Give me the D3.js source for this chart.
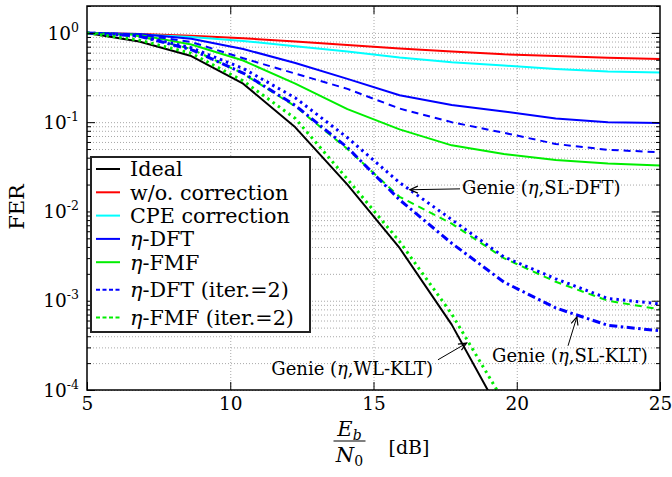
<!DOCTYPE html>
<html>
<head>
<meta charset="utf-8">
<script src="https://cdn.jsdelivr.net/npm/d3@7"></script>
<style>
body { margin: 0; background: #fff; }
text { font-family: "DejaVu Serif", "Liberation Serif", serif; fill: #000; }
</style>
</head>
<body>
<svg id="chart" width="672" height="477"></svg>
<script>
// Eb/N0 sample points (dB)
const ebn0 = [5, 6.82, 8.64, 10.45, 12.27, 14.09, 15.91, 17.73, 19.55, 21.36, 23.18, 25];

// FER curves
const ferIdeal = [1.0, 0.80, 0.55, 0.27, 0.0875, 0.0200, 0.0039, 0.00054, 0.000047];
const ferNoCorr = [1.0, 0.97, 0.93, 0.87, 0.80, 0.73, 0.67, 0.62, 0.575, 0.55, 0.525, 0.51];
const ferCpe = [1.0, 0.96, 0.90, 0.81, 0.71, 0.62, 0.53, 0.47, 0.43, 0.395, 0.37, 0.36];
const ferEtaDft = [1.0, 0.97, 0.86, 0.66, 0.46, 0.305, 0.20, 0.156, 0.132, 0.110, 0.0995, 0.098];
const ferEtaFmf = [1.0, 0.95, 0.74, 0.49, 0.27, 0.14, 0.083, 0.055, 0.044, 0.0377, 0.0345, 0.0326];
const ferEtaDftIt2 = [1.0, 0.96, 0.79, 0.52, 0.35, 0.236, 0.142, 0.10, 0.076, 0.057, 0.049, 0.046];
const ferEtaFmfIt2 = [1.0, 0.92, 0.66, 0.35, 0.15, 0.05, 0.0146, 0.0073, 0.0030, 0.00163, 0.00100, 0.00080];
const ferGenieSlDft = [1.0, 0.93, 0.68, 0.40, 0.187, 0.067, 0.021, 0.0081, 0.0031, 0.00176, 0.00106, 0.00092];
const ferGenieSlKlt = [1.0, 0.92, 0.65, 0.355, 0.154, 0.052, 0.0135, 0.0044, 0.00162, 0.00083, 0.00053, 0.00046];
const ferGenieWlKlt = [1.0, 0.83, 0.59, 0.29, 0.11, 0.023, 0.0046, 0.00071, 0.000074];

const legendLabels = ["Ideal", "w/o. correction", "CPE correction", "η-DFT", "η-FMF",
    "η-DFT (iter.=2)", "η-FMF (iter.=2)"];
const xTicks = [5, 10, 15, 20, 25];
const yMajor = [1e-4, 1e-3, 1e-2, 1e-1, 1];
const yExp = ["-4", "-3", "-2", "-1", "0"];

const svg = d3.select("#chart");
const plot = { left: 87, right: 660, top: 6, bottom: 390 };
const pw = plot.right - plot.left;
const ph = plot.bottom - plot.top;

const x = d3.scaleLinear().domain([5, 25]).range([plot.left, plot.right]);
const y = d3.scaleLog().domain([1e-4, 2]).range([plot.bottom, plot.top]);

svg.append("rect").attr("width", 672).attr("height", 477).attr("fill", "#fff");

// grid (dotted)
const gy = svg.append("g")
    .attr("transform", `translate(${plot.left},0)`)
    .call(d3.axisLeft(y).tickValues(y.ticks()).tickSize(-pw).tickFormat(""));
const gx = svg.append("g")
    .attr("transform", `translate(0,${plot.bottom})`)
    .call(d3.axisBottom(x).tickValues([10, 15, 20]).tickSize(-ph).tickFormat(""));
[gy, gx].forEach((g) => {
    g.select(".domain").remove();
    g.selectAll("line")
        .attr("stroke", "#a8a8a8")
        .attr("stroke-width", 1)
        .attr("stroke-dasharray", "1,2");
});

// curves
const series = [
    { v: ferIdeal, color: "#000000", dash: null, w: 2 },
    { v: ferNoCorr, color: "#ff0000", dash: null, w: 2 },
    { v: ferCpe, color: "#00ffff", dash: null, w: 2 },
    { v: ferEtaDft, color: "#0000ff", dash: null, w: 2 },
    { v: ferEtaFmf, color: "#00ee00", dash: null, w: 2 },
    { v: ferEtaDftIt2, color: "#0000ff", dash: "7,5", w: 2 },
    { v: ferEtaFmfIt2, color: "#00ee00", dash: "7,5", w: 2 },
    { v: ferGenieSlKlt, color: "#0000ff", dash: "8,3.5,2.5,3.5", w: 3 },
    { v: ferGenieSlDft, color: "#0000ff", dash: "2.5,4", w: 3 },
    { v: ferGenieWlKlt, color: "#00ee00", dash: "2.5,4", w: 3 }
];

svg.append("clipPath").attr("id", "clip")
    .append("rect")
    .attr("x", plot.left).attr("y", plot.top)
    .attr("width", pw).attr("height", ph);

const line = d3.line()
    .x((d) => x(d[0]))
    .y((d) => y(d[1]));

const curves = svg.append("g").attr("clip-path", "url(#clip)");
series.forEach((s) => {
    curves.append("path")
        .datum(s.v.map((f, i) => [ebn0[i], f]))
        .attr("d", line)
        .attr("fill", "none")
        .attr("stroke", s.color)
        .attr("stroke-width", s.w)
        .attr("stroke-dasharray", s.dash)
        .attr("stroke-linejoin", "round");
});

// ticks (inward, on all sides)
function inward(axis, tx, ty, size) {
    const g = svg.append("g")
        .attr("transform", `translate(${tx},${ty})`)
        .call(axis.tickSize(-size).tickFormat(""));
    g.select(".domain").remove();
    g.selectAll("line").attr("stroke", "#000").attr("stroke-width", 1);
    return g;
}
const yMinor = y.ticks().filter((t) => yMajor.indexOf(t) < 0);
inward(d3.axisLeft(y).tickValues(yMajor), plot.left, 0, 8);
inward(d3.axisRight(y).tickValues(yMajor), plot.right, 0, 8);
inward(d3.axisLeft(y).tickValues(yMinor), plot.left, 0, 4);
inward(d3.axisRight(y).tickValues(yMinor), plot.right, 0, 4);
inward(d3.axisTop(x).tickValues([10, 15, 20]), 0, plot.top, 8);

const xAxis = svg.append("g")
    .attr("transform", `translate(0,${plot.bottom})`)
    .call(d3.axisBottom(x).tickValues(xTicks).tickSize(-8).tickPadding(7));
xAxis.select(".domain").remove();
xAxis.selectAll("line").attr("stroke", "#000");
xAxis.selectAll("text")
    .attr("font-family", "DejaVu Serif")
    .attr("font-size", 18.5)
    .attr("fill", "#000");

// y tick labels with superscripts
yMajor.forEach((v, i) => {
    const t = svg.append("text")
        .attr("x", plot.left - 8)
        .attr("y", y(v))
        .attr("dy", "0.36em")
        .attr("text-anchor", "end")
        .attr("font-size", 18.5);
    t.append("tspan").text("10");
    t.append("tspan").attr("dy", -8).attr("font-size", 12.5).text(yExp[i]);
});

// frame
svg.append("rect")
    .attr("x", plot.left).attr("y", plot.top)
    .attr("width", pw).attr("height", ph)
    .attr("fill", "none").attr("stroke", "#000").attr("stroke-width", 1.5);

// axis labels
svg.append("text")
    .attr("transform", `translate(24,${(plot.top + plot.bottom) / 2 + 9}) rotate(-90)`)
    .attr("text-anchor", "middle")
    .attr("font-size", 21)
    .text("FER");

const cx = x(15);
const num = svg.append("text").attr("x", cx - 24).attr("y", 436)
    .attr("text-anchor", "middle").attr("font-size", 21);
num.append("tspan").attr("font-style", "italic").text("E");
num.append("tspan").attr("font-style", "italic").attr("font-size", 14).attr("dy", 4).text("b");
svg.append("line")
    .attr("x1", cx - 40).attr("x2", cx - 8)
    .attr("y1", 441).attr("y2", 441)
    .attr("stroke", "#000").attr("stroke-width", 1.2);
const den = svg.append("text").attr("x", cx - 24).attr("y", 462)
    .attr("text-anchor", "middle").attr("font-size", 21);
den.append("tspan").attr("font-style", "italic").text("N");
den.append("tspan").attr("font-size", 14).attr("dy", 4).text("0");
svg.append("text").attr("x", cx + 15).attr("y", 454)
    .attr("font-size", 19).text("[dB]");

// text helper: italic η
function richText(sel, str) {
    str.split(/(η)/).forEach((part) => {
        if (!part) return;
        const ts = sel.append("tspan").text(part);
        if (part === "η") ts.attr("font-style", "italic");
    });
}

// legend
const lg = svg.append("g");
lg.append("rect")
    .attr("x", 91).attr("y", 157)
    .attr("width", 219).attr("height", 175)
    .attr("fill", "#fff").attr("stroke", "#222").attr("stroke-width", 2);
let ly = 169;
legendLabels.forEach((lab, i) => {
    if (i > 0) ly += lab.indexOf("(") >= 0 ? 27.6 : 23.3;
    const s = series[i];
    lg.append("line")
        .attr("x1", 96).attr("x2", 120)
        .attr("y1", ly).attr("y2", ly)
        .attr("stroke", s.color).attr("stroke-width", s.w)
        .attr("stroke-dasharray", s.dash ? "4,2.5" : null);
    const t = lg.append("text")
        .attr("x", 130).attr("y", ly).attr("dy", "0.36em")
        .attr("font-size", 20.7);
    richText(t, lab);
});

// annotations (anchors given in data units)
svg.append("defs").append("marker")
    .attr("id", "head")
    .attr("viewBox", "-10 -5 12 10")
    .attr("refX", 0).attr("refY", 0)
    .attr("markerWidth", 12).attr("markerHeight", 10)
    .attr("markerUnits", "userSpaceOnUse")
    .attr("orient", "auto")
    .append("path")
    .attr("d", "M-8,-3.5L0,0L-8,3.5")
    .attr("fill", "none").attr("stroke", "#000").attr("stroke-width", 1.2);

const notes = [
    { label: "Genie (η,SL-DFT)", tail: [18.02, 0.0179], tip: [16.27, 0.0175], at: [18.09, 0.0183], anchor: "start" },
    { label: "Genie (η,SL-KLT)", tail: [21.79, 3.13e-4], tip: [22.10, 6.6e-4], at: [19.14, 2.42e-4], anchor: "start" },
    { label: "Genie (η,WL-KLT)", tail: [17.25, 2.18e-4], tip: [18.25, 3.35e-4], at: [17.08, 1.73e-4], anchor: "end" }
];
notes.forEach((n) => {
    svg.append("line")
        .attr("x1", x(n.tail[0])).attr("y1", y(n.tail[1]))
        .attr("x2", x(n.tip[0])).attr("y2", y(n.tip[1]))
        .attr("stroke", "#000").attr("stroke-width", 1)
        .attr("marker-end", "url(#head)");
    const t = svg.append("text")
        .attr("x", x(n.at[0])).attr("y", y(n.at[1]))
        .attr("dy", "0.36em")
        .attr("text-anchor", n.anchor)
        .attr("font-size", 18);
    richText(t, n.label);
});
</script>
</body>
</html>
